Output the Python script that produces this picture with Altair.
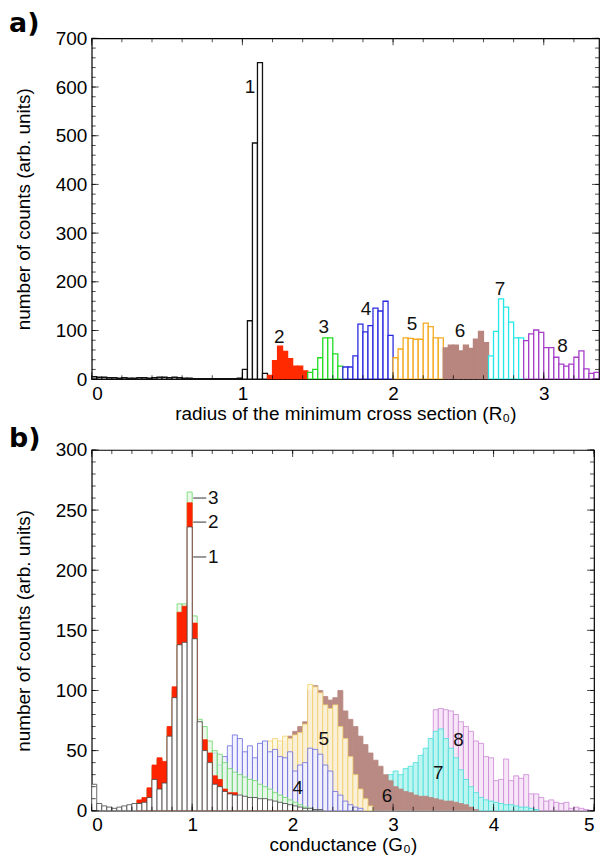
import altair as alt
import pandas as pd

# ---------------- panel a : radius of the minimum cross section ----------------
A_BIN = 1.0 / 30.0
A_XMAX = 101 / 30.0

a_black_start = 0
a_black = [5, 4, 4, 3, 3, 2, 3, 2, 2, 3, 3, 2, 3, 4, 4, 3, 4, 3, 2, 2,
           1, 1, 1, 1, 1, 1, 1, 1, 1, 2, 20, 120, 485, 650, 12]
a_red_start = 35
a_red = [8, 38, 68, 57, 42, 27, 27, 17]
a_green_start = 43
a_green = [14, 20, 44, 85, 85, 52, 27]
a_blue_start = 50
a_blue = [25, 25, 48, 113, 97, 110, 146, 140, 160, 90]
a_orange_start = 60
a_orange = [44, 62, 85, 84, 82, 82, 115, 108, 85, 85]
a_brown_start = 70
a_brown = [64, 70, 70, 58, 70, 63, 82, 98, 75]
a_cyan_start = 79
a_cyan = [48, 98, 165, 148, 117, 85, 85]
a_purple_start = 86
a_purple = [79, 93, 101, 96, 65, 65, 45, 31, 27, 31, 45, 58, 21, 12, 14]

a_label_text = ["1", "2", "3", "4", "5", "6", "7", "8"]
a_label_x = [1.05, 1.245, 1.54, 1.82, 2.125, 2.445, 2.71, 3.125]
a_label_y = [600, 86, 107, 144, 113, 99, 185, 69]

a_xticks = [0, 1, 2, 3]
a_xminor = [round(0.2 * i, 1) for i in range(17)]
a_yticks = [0, 100, 200, 300, 400, 500, 600, 700]
a_yminor = list(range(0, 701, 20))

# ---------------- panel b : conductance ----------------
B_BIN = 0.05
B_XMAX = 5

b_black_start = 0
b_black = [22, 6, 4, 3, 2, 3, 4, 5, 6, 6, 7, 11, 26, 18, 23, 62, 94, 138, 140, 236,
           143, 74, 50, 40, 22, 20, 16, 14, 13, 13, 12, 11, 11, 10, 10, 9, 8, 7, 6, 5,
           4, 3, 2, 2, 1, 1]
b_red_start = 9
b_red = [9, 11, 19, 38, 44, 41, 70, 103, 165, 170, 256, 156, 70, 59, 48, 29, 26, 18, 15, 15,
         12, 11, 10, 9, 8, 7, 6, 5, 4, 3, 2, 2, 1]
b_green_start = 8
b_green = [5, 8, 10, 18, 36, 43, 40, 68, 100, 172, 172, 265, 162, 76, 70, 58, 50, 47, 40, 35,
           32, 30, 28, 26, 25, 22, 20, 18, 15, 13, 11, 9, 7, 5, 3, 2]
b_blue_start = 20
b_blue = [3, 5, 10, 20, 48, 38, 45, 54, 63, 60, 49, 54, 44, 56, 58, 49, 51, 45, 44, 49,
          33, 38, 40, 52, 51, 47, 38, 33, 16, 13, 8, 5, 3, 2]
b_yellow_start = 28
b_yellow = [10, 15, 20, 30, 40, 50, 55, 58, 60, 58, 62, 60, 63, 65, 72, 105, 103, 98, 88, 85,
            88, 70, 60, 45, 30, 18, 10, 4]
b_brown_start = 34
b_brown = [30, 40, 48, 55, 58, 62, 66, 70, 74, 100, 104, 100, 95, 92, 94, 100, 83, 76, 70, 62,
           55, 48, 42, 37, 30, 25, 20, 18, 16, 15, 13, 12, 12, 11, 10, 9, 8, 8, 7, 6,
           5, 3, 1]
b_cyan_start = 52
b_cyan = [5, 8, 12, 16, 20, 24, 27, 30, 33, 30, 35, 37, 40, 46, 52, 60, 66, 68, 60, 52,
          44, 34, 26, 20, 15, 11, 9, 8, 7, 6, 5, 5, 4, 3, 3, 2, 1]
b_purple_start = 58
b_purple = [3, 5, 8, 10, 13, 17, 22, 30, 48, 52, 84, 85, 84, 83, 80, 74, 70, 66, 58, 56,
            45, 44, 25, 26, 43, 25, 29, 27, 30, 14, 14, 11, 8, 9, 7, 6, 7, 2, 3, 2, 1]

b_label_text = ["1", "2", "3", "4", "5", "6", "7", "8"]
b_label_x = [1.21, 1.21, 1.21, 2.05, 2.31, 2.94, 3.45, 3.65]
b_label_y = [211, 240, 260, 19, 60, 12, 31, 59]
b_leader_y = [211, 240, 260]
b_leader_x0 = [1.01, 1.01, 1.01]
b_leader_x1 = [1.14, 1.14, 1.14]

b_xticks = [0, 1, 2, 3, 4, 5]
b_xminor = [round(0.2 * i, 1) for i in range(26)]
b_yticks = [0, 50, 100, 150, 200, 250, 300]
b_yminor = list(range(0, 301, 10))

FONT = "Liberation Sans"
FS = 19


def hist_df(start, values, width):
    return pd.DataFrame({
        "x0": [(start + i) * width for i in range(len(values))],
        "x1": [(start + i + 1) * width for i in range(len(values))],
        "y": values,
    })


def bars(df, xs, ys, fill, stroke, sw, fill_opacity=1.0):
    return alt.Chart(df).mark_bar(fill=fill, stroke=stroke, strokeWidth=sw,
                                  fillOpacity=fill_opacity, clip=True).encode(
        x=alt.X("x0:Q", scale=xs, axis=None),
        x2="x1:Q",
        y=alt.Y("y:Q", scale=ys, axis=None),
        y2=alt.datum(0),
    )


def frame_ticks(xs, ys, xmaj, xmin, ymaj, ymin, xmax, ymax):
    layers = []
    for vals, size in [(xmaj, 7), (xmin, 4)]:
        df = pd.DataFrame({"v": vals})
        for ypos, off in [(0, -size / 2), (ymax, size / 2)]:
            layers.append(alt.Chart(df).mark_tick(
                orient="vertical", size=size, thickness=1, color="black", yOffset=off).encode(
                x=alt.X("v:Q", scale=xs, axis=None),
                y=alt.Y(datum=ypos, scale=ys, axis=None)))
    for vals, size in [(ymaj, 7), (ymin, 4)]:
        df = pd.DataFrame({"v": vals})
        for xpos, off in [(0, size / 2), (xmax, -size / 2)]:
            layers.append(alt.Chart(df).mark_tick(
                orient="horizontal", size=size, thickness=1, color="black", xOffset=off).encode(
                y=alt.Y("v:Q", scale=ys, axis=None),
                x=alt.X(datum=xpos, scale=xs, axis=None)))
    return layers


def axis_layer(xs, ys, xmaj, ymaj, xtitle, ytitle):
    dummy = pd.DataFrame({"x": [xmaj[0]], "y": [ymaj[0]]})
    common = dict(grid=False, domain=False, ticks=False)
    return alt.Chart(dummy).mark_point(opacity=0, size=1).encode(
        x=alt.X("x:Q", scale=xs, axis=alt.Axis(
            orient="bottom", values=xmaj, labelPadding=5, title=xtitle,
            titlePadding=1, format="d", **common)),
        y=alt.Y("y:Q", scale=ys, axis=alt.Axis(
            orient="left", values=ymaj, labelPadding=5, title=ytitle,
            titlePadding=22, format="d", **common)),
    )


def labels(xs, ys, lx, ly, lt):
    df = pd.DataFrame({"x": lx, "y": ly, "t": lt})
    return alt.Chart(df).mark_text(font=FONT, fontSize=FS, color="#111").encode(
        x=alt.X("x:Q", scale=xs, axis=None),
        y=alt.Y("y:Q", scale=ys, axis=None),
        text="t:N",
    )


def panel_title(t, off):
    return alt.TitleParams(t, anchor="start", frame="group", dx=-83, fontSize=27,
                           font="DejaVu Sans", fontWeight="bold", offset=off, color="black")


# ---------------- build panel a ----------------
xs_a = alt.Scale(domain=[0, A_XMAX], nice=False, zero=False)
ys_a = alt.Scale(domain=[0, 700], nice=False, zero=False)

a_layers = [
    bars(hist_df(a_black_start, a_black, A_BIN), xs_a, ys_a, "white", "#111111", 1.3),
    bars(hist_df(a_red_start, a_red, A_BIN), xs_a, ys_a, "#ff2a00", "#ff2a00", 1.3),
    bars(hist_df(a_green_start, a_green, A_BIN), xs_a, ys_a, "white", "#22dd22", 1.3),
    bars(hist_df(a_blue_start, a_blue, A_BIN), xs_a, ys_a, "white", "#2a2ae0", 1.3),
    bars(hist_df(a_orange_start, a_orange, A_BIN), xs_a, ys_a, "white", "#f4aa22", 1.3),
    bars(hist_df(a_brown_start, a_brown, A_BIN), xs_a, ys_a, "#b8857f", "#b8857f", 1.3),
    bars(hist_df(a_cyan_start, a_cyan, A_BIN), xs_a, ys_a, "white", "#22e8e8", 1.3),
    bars(hist_df(a_purple_start, a_purple, A_BIN), xs_a, ys_a, "white", "#a63cc8", 1.3),
    labels(xs_a, ys_a, a_label_x, a_label_y, a_label_text),
    axis_layer(xs_a, ys_a, a_xticks, a_yticks,
               "radius of the minimum cross section (R₀)", "number of counts (arb. units)"),
] + frame_ticks(xs_a, ys_a, a_xticks, a_xminor, a_yticks, a_yminor, A_XMAX, 700)

panel_a = alt.layer(*a_layers).resolve_axis(x="independent", y="independent").properties(
    width=509, height=342, title=panel_title("a)", -9))

# ---------------- build panel b ----------------
xs_b = alt.Scale(domain=[0, B_XMAX], nice=False, zero=False)
ys_b = alt.Scale(domain=[0, 300], nice=False, zero=False)

lead_df = pd.DataFrame({"x0": b_leader_x0, "x1": b_leader_x1, "y": b_leader_y})
leaders = alt.Chart(lead_df).mark_rule(color="#333333", strokeWidth=1).encode(
    x=alt.X("x0:Q", scale=xs_b, axis=None), x2="x1:Q",
    y=alt.Y("y:Q", scale=ys_b, axis=None))

SW = 0.8
b_layers = [
    bars(hist_df(b_purple_start, b_purple, B_BIN), xs_b, ys_b, "#f7e6f7", "#cc88d6", SW),
    bars(hist_df(b_cyan_start, b_cyan, B_BIN), xs_b, ys_b, "#bff5f0", "#45e0da", SW),
    bars(hist_df(b_brown_start, b_brown, B_BIN), xs_b, ys_b, "#b98a83", "#b98a83", SW),
    bars(hist_df(b_yellow_start, b_yellow, B_BIN), xs_b, ys_b, "#fff8e2", "#f3d26a", SW, 0.92),
    bars(hist_df(b_blue_start, b_blue, B_BIN), xs_b, ys_b, "#f0f1ff", "#6a6ae0", SW, 0.85),
    bars(hist_df(b_green_start, b_green, B_BIN), xs_b, ys_b, "#e2f7e2", "#6ad86a", SW, 0.7),
    bars(hist_df(b_red_start, b_red, B_BIN), xs_b, ys_b, "#ff2400", "#ff2400", SW),
    bars(hist_df(b_black_start, b_black, B_BIN), xs_b, ys_b, "white", "#444444", SW),
    leaders,
    labels(xs_b, ys_b, b_label_x, b_label_y, b_label_text),
    axis_layer(xs_b, ys_b, b_xticks, b_yticks,
               "conductance (G₀)", "number of counts (arb. units)"),
] + frame_ticks(xs_b, ys_b, b_xticks, b_xminor, b_yticks, b_yminor, B_XMAX, 300)

panel_b = alt.layer(*b_layers).resolve_axis(x="independent", y="independent").properties(
    width=504, height=362, title=panel_title("b)", -12))

chart = alt.vconcat(panel_a, panel_b, spacing=0).properties(
    padding={"left": 0, "top": 0, "right": 0, "bottom": 0}
).configure_view(stroke="black", strokeWidth=1.2).configure_axis(
    labelFont=FONT, labelFontSize=FS, labelColor="black",
    titleFont=FONT, titleFontSize=FS, titleFontWeight="normal", titleColor="black",
)

chart.save("out.html", embed_options={"renderer": "svg", "actions": False})
